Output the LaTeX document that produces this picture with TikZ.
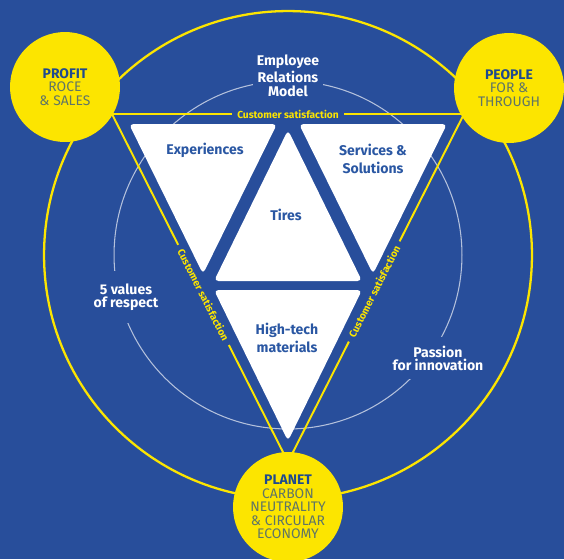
\documentclass[tikz,border=0pt]{standalone}
\usepackage{fontspec}
\setmainfont{Fira Sans}
\usepackage{xcolor}
\usetikzlibrary{positioning}

\definecolor{mblue}{HTML}{284E9B}
\definecolor{myellow}{HTML}{FCE500}
\definecolor{tblue}{HTML}{2A57A3}
\definecolor{cblue}{HTML}{1F4A8E}
\definecolor{cgrey}{HTML}{5F7566}

\begin{document}
\begin{tikzpicture}[
        x=0.02cm, y=-0.02cm,
        pillar/.style={circle, fill=myellow, minimum size=2.2cm, inner sep=0pt, align=center, text=cgrey, font=\fontsize{7.9}{7.7}\selectfont},
        block/.style={fill=white, rounded corners=2.5pt},
        blocktext/.style={align=center, text=tblue, font=\bfseries\fontsize{8}{10}\selectfont},
        value/.style={align=center, text=white, fill=mblue, inner xsep=2pt, font=\bfseries\fontsize{8}{7.4}\selectfont},
        satis/.style={fill=mblue, text=myellow, inner xsep=3pt, inner ysep=1.2pt, font=\bfseries\fontsize{5.8}{6}\selectfont},
        ring/.style={myellow, line width=1.3pt},
        side/.style={myellow, line width=1.1pt}
    ]

    % Background
    \useasboundingbox (0,0) rectangle (564,559);
    \fill[mblue] (0,0) rectangle (564,559);

    % Rings
    \coordinate (hub) at (288,255);
    \draw[ring] (hub) circle[radius=4.88cm];
    \draw[white!65!mblue, line width=0.6pt] (hub) circle[radius=3.48cm];

    % Blocks
    \fill[block] (129,124) -- (277,124) -- (203,274) -- cycle;
    \fill[block] (299,124) -- (447,124) -- (373,274) -- cycle;
    \fill[block] (288,130) -- (362,281) -- (214,281) -- cycle;
    \fill[block] (214,290) -- (362,290) -- (288,441) -- cycle;

    \node[blocktext] (exp) at (205,150) {Experiences};
    \node[blocktext] (serv) at (373,159) {Services \&\\Solutions};
    \node[blocktext] (tires) at (286,215) {Tires};
    \node[blocktext] (htm) at (287,338) {High-tech\\materials};

    % Sides
    \coordinate (tl) at (112,114);
    \coordinate (tr) at (464,114);
    \coordinate (bt) at (288,462);
    \draw[side] (tl) -- node[satis] {Customer satisfaction} (tr);
    \draw[side] (tl) -- node[satis, sloped, pos=0.52] {Customer satisfaction} (bt);
    \draw[side] (bt) -- node[satis, sloped, pos=0.49] {Customer satisfaction} (tr);

    % Values
    \node[value, font=\bfseries\fontsize{8}{8.2}\selectfont] (erm) at (288,76) {Employee\\Relations\\Model};
    \node[value, inner ysep=7pt] (respect) at (126,297) {5 values\\of respect};
    \node[value, inner ysep=5pt] (passion) at (438,358) {Passion\\for innovation};

    % Pillars
    \node[pillar] (profit) at (65,87) {\textcolor{cblue}{\bfseries PROFIT}\\ROCE\\\& SALES};
    \node[pillar] (people) at (509,88) {\textcolor{cblue}{\bfseries PEOPLE}\\FOR \&\\THROUGH};
    \node[pillar] (planet) at (288,507) {\textcolor{cblue}{\bfseries PLANET}\\CARBON\\NEUTRALITY\\\& CIRCULAR\\ECONOMY};
\end{tikzpicture}
\end{document}
